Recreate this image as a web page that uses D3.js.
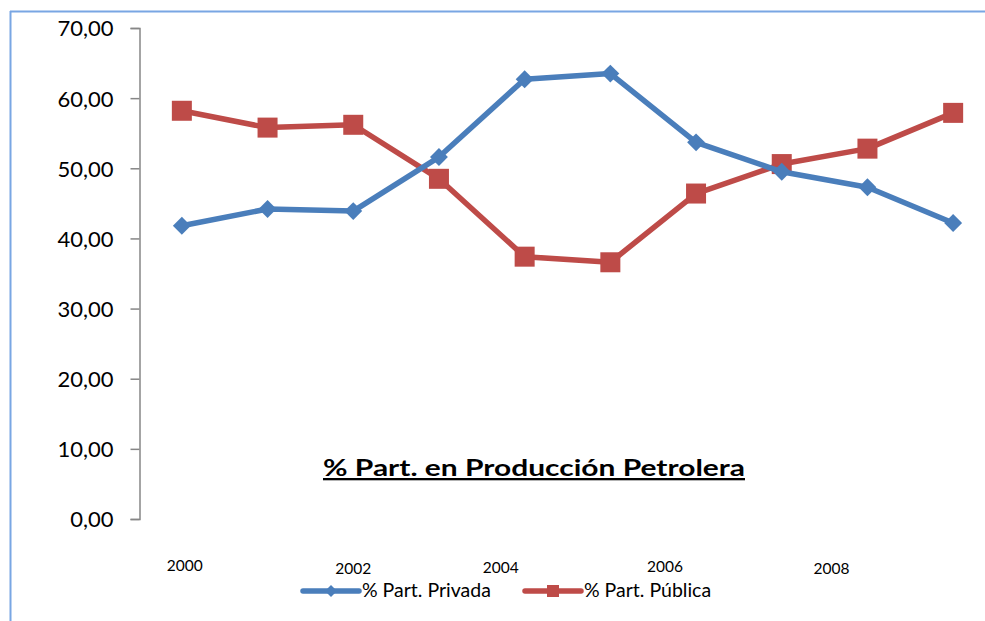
<!DOCTYPE html>
<html>
<head>
<meta charset="utf-8">
<script src="https://cdn.jsdelivr.net/npm/d3@7"></script>
<style>
  body { margin: 0; background: #fff; }
  svg { display: block; font-family: Lato, "Open Sans", sans-serif; }
</style>
</head>
<body>
<script>
const years = [2000, 2001, 2002, 2003, 2004, 2005, 2006, 2007, 2008, 2009];
const privada = [41.8, 44.2, 43.9, 51.6, 62.7, 63.5, 53.7, 49.5, 47.3, 42.2];
const publica = [58.2, 55.8, 56.2, 48.5, 37.4, 36.6, 46.4, 50.6, 52.8, 57.9];
const yTicks = [0, 10, 20, 30, 40, 50, 60, 70];
const xLabels = [2000, 2002, 2004, 2006, 2008];
// labels in the original sit oddly off their category, shift in px / baseline drop
const xLabelShift = [3, 0, -24, -31, -36];
const xLabelDrop = [0, 3, 2, 1, 3];

const width = 985, height = 621;
const svg = d3.select("body").append("svg")
  .attr("width", width).attr("height", height);

// frame (only top and left show)
svg.append("line").attr("x1", 10).attr("x2", width).attr("y1", 11.5).attr("y2", 11.5)
  .attr("stroke", "#79a6e3").attr("stroke-width", 2);
svg.append("line").attr("x1", 10.5).attr("x2", 10.5).attr("y1", 11).attr("y2", height)
  .attr("stroke", "#79a6e3").attr("stroke-width", 2);

const x = d3.scaleBand().domain(years).range([139, 996]).padding(0);
const cx = d => x(d) + x.bandwidth() / 2;
const y = d3.scaleLinear().domain([0, 70]).range([519, 28]);

// y axis
const yAxis = svg.append("g").attr("transform", "translate(139.5,0)")
  .call(d3.axisLeft(y).tickValues(yTicks).tickSize(9).tickPadding(17)
    .tickFormat(d => d3.format(".2f")(d).replace(".", ",")));
yAxis.select(".domain").attr("stroke", "#868686").attr("stroke-width", 1.5);
yAxis.selectAll(".tick line").attr("stroke", "#868686").attr("stroke-width", 1.5);
yAxis.selectAll(".tick text").attr("font-size", "22px").attr("fill", "#000")
  .attr("font-family", "Lato, sans-serif").attr("dy", "0.36em");

// x labels
svg.append("g").selectAll("text")
  .data(xLabels)
  .join("text")
  .attr("x", (d, i) => cx(d) + xLabelShift[i])
  .attr("y", (d, i) => 571 + xLabelDrop[i])
  .attr("text-anchor", "middle")
  .attr("font-size", "15.5px")
  .text(d => d);

const line = d3.line().x((d, i) => cx(years[i])).y(d => y(d));

const blue = "#4a7ebb", red = "#be4b48";

function drawSeries(vals, color, shape) {
  svg.append("path").datum(vals)
    .attr("d", line).attr("fill", "none")
    .attr("stroke", color).attr("stroke-width", 5.5).attr("stroke-linejoin", "round");
  const g = svg.append("g");
  if (shape === "diamond") {
    g.selectAll("path").data(vals).join("path")
      .attr("d", d3.symbol(d3.symbolSquare, 160)())
      .attr("transform", (d, i) => "translate(" + cx(years[i]) + "," + y(d) + ") rotate(45)")
      .attr("fill", color);
  } else {
    g.selectAll("rect").data(vals).join("rect")
      .attr("x", (d, i) => cx(years[i]) - 10).attr("y", d => y(d) - 10)
      .attr("width", 20).attr("height", 20)
      .attr("fill", color);
  }
}
drawSeries(publica, red, "square");
drawSeries(privada, blue, "diamond");

// title
svg.append("text")
  .attr("x", 534).attr("y", 476)
  .attr("text-anchor", "middle")
  .attr("font-size", "23px").attr("font-weight", "bold")
  .attr("text-decoration", "underline")
  .attr("textLength", 422).attr("lengthAdjust", "spacingAndGlyphs")
  .text("% Part. en Producción Petrolera");

// legend
const legend = [
  {name: "% Part. Privada", color: blue, shape: "diamond", x0: 303},
  {name: "% Part. Pública", color: red, shape: "square", x0: 525}
];
legend.forEach(l => {
  const g = svg.append("g").attr("transform", "translate(" + l.x0 + ",591)");
  g.append("line").attr("x1", 0).attr("x2", 56).attr("stroke", l.color)
    .attr("stroke-width", 5.5).attr("stroke-linecap", "round");
  if (l.shape === "diamond") {
    g.append("path").attr("d", d3.symbol(d3.symbolSquare, 72)())
      .attr("transform", "translate(28,0) rotate(45)").attr("fill", l.color);
  } else {
    g.append("rect").attr("x", 22).attr("y", -6).attr("width", 12).attr("height", 12)
      .attr("fill", l.color);
  }
  g.append("text").attr("x", 59).attr("y", 6).attr("font-size", "19.5px").text(l.name);
});
</script>
</body>
</html>
